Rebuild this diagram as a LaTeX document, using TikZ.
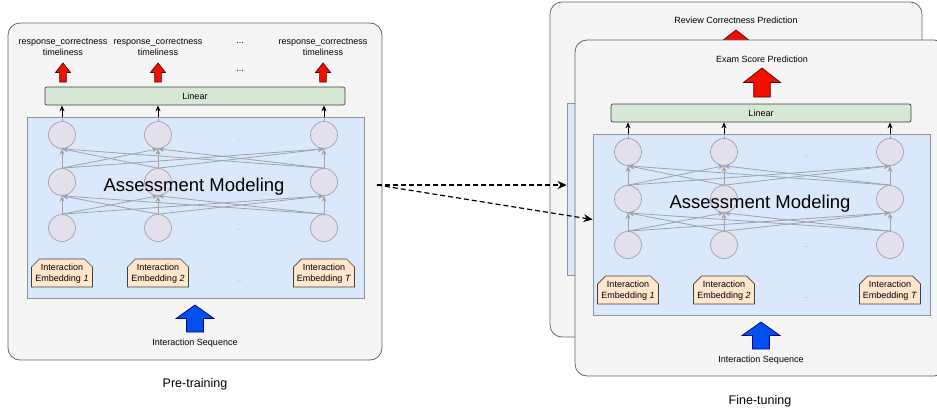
\documentclass[tikz,border=0pt]{standalone}
\usepackage{fontspec}
\setmainfont{Liberation Sans}
\usetikzlibrary{arrows.meta, positioning}

\definecolor{panelgray}{HTML}{F5F5F5}
\definecolor{paneledge}{HTML}{666666}
\definecolor{boxblue}{HTML}{DAE8FC}
\definecolor{boxedge}{HTML}{8F9299}
\definecolor{lineargreen}{HTML}{D5E8D4}
\definecolor{embpeach}{HTML}{FFE6CC}
\definecolor{unitfill}{HTML}{E1E0EB}
\definecolor{unitedge}{HTML}{A0A3A8}
\definecolor{outred}{HTML}{F01000}
\definecolor{inblue}{HTML}{0050EF}

\tikzset{
every node/.style={font=\fontsize{9}{11}\selectfont, inner sep=0pt}, % small drawio-like labels
panel/.style={draw=paneledge, fill=panelgray, rounded corners=12pt, line width=0.8pt},
modelbox/.style={draw=boxedge, fill=boxblue, line width=0.8pt},
linear/.style={draw=black!75, fill=lineargreen, rounded corners=2pt, minimum width=300pt, minimum height=18pt, line width=0.7pt},
unit/.style={circle, draw=unitedge, fill=unitfill, minimum size=27pt, line width=0.7pt},
embedline/.style={draw=black!75, fill=embpeach, line width=0.7pt},
embed/.style={minimum width=61pt, minimum height=28pt, align=center},
flow/.style={-{Stealth[length=6pt,width=5pt]}, draw=unitedge, line width=0.8pt},
tolinear/.style={-{Stealth[length=6pt,width=5pt]}, line width=1pt},
dashlink/.style={-{Stealth[length=9pt,width=8pt]}, dash pattern=on 5pt off 3pt, line width=1.2pt},
smalldots/.style={text=gray!70, font=\fontsize{6}{7}\selectfont},
fat/.pic={\path[pic actions] (-0.45,0) -- (-0.45,-0.5) -- (-1,-0.5) -- (0,-1) -- (1,-0.5) -- (0.45,-0.5) -- (0.45,0) -- cycle;},
}

% the shared assessment block: #1 name prefix, #2 x shift, #3 y shift
\newcommand{\modelblock}[3]{%
\begin{scope}[shift={(#2,#3)}]
  \node[modelbox, minimum width=337pt, minimum height=181pt] (#1box) at (195.5,207.5) {};
  \node[linear] (#1lin) at (195,96) {Linear};
  \foreach \c/\x/\t in {1/62/1, 2/158/2, 3/324/T} {
    \foreach \r/\y in {1/135, 2/182, 3/228}
      \node[unit] (#1u\r\c) at (\x,\y) {};
    % embedding box with cut top corners
    \path[embedline] (\x-30.5,287) -- (\x-30.5,267) -- (\x-22.5,259) -- (\x+22.5,259)
      -- (\x+30.5,267) -- (\x+30.5,287) -- cycle;
    \node[embed] (#1e\c) at (\x,274) {Interaction\\Embedding \textit{\t}};
  }
  \node[smalldots] (#1d1) at (240,140) {...};
  \node[smalldots] (#1d3) at (240,230) {...};
  \node[smalldots] (#1de) at (240,281) {...};
  \foreach \a in {1,2,3}
    \foreach \b in {1,2,3} {
      \draw[flow] (#1u3\a.north) -- (#1u2\b.south);
      \draw[flow] (#1u2\a.north) -- (#1u1\b.south);
    }
  \foreach \c in {1,2,3} {
    \draw[draw=unitedge, line width=0.8pt] (#1u1\c.north) -- (#1u1\c.north |- #1box.north);
    \draw[tolinear] (#1u1\c.north |- #1box.north) -- (#1u1\c.north |- #1lin.south);
  }
  \node[font=\fontsize{18.5}{20}\selectfont] (#1name) at (194,187) {Assessment Modeling};
  \pic[fill=inblue, draw=blue!50!black, line width=0.7pt, xscale=19, yscale=27] at (195,332) {fat};
  \node (#1seq) at (195,343) {Interaction Sequence};
\end{scope}}

\begin{document}
\begin{tikzpicture}[x=1pt, y=-1pt]
\useasboundingbox (0,0) rectangle (937,415);

% pre-training
\node[panel, minimum width=374pt, minimum height=337pt] (pre) at (195,191.5) {};
\foreach \c/\x in {1/63, 2/158, 3/323} {
  \node[align=center] (out\c) at (\x,47) {response\_correctness\\timeliness};
  \pic[fill=outred, draw=red!35!black, line width=0.7pt, xscale=7.5, yscale=19] at (\x,82) {fat};
}
\node (outdots) at (240,43) {...};
\node (arrdots) at (240,71) {...};
\modelblock{p}{0}{0}
\node[font=\fontsize{12.5}{14}\selectfont] (pretrain) at (195,384) {Pre-training};

% fine-tuning, review task behind
\node[panel, minimum width=372pt, minimum height=335pt] (review) at (736,169.5) {};
\node (reviewtxt) at (736,20) {Review Correctness Prediction};
\pic[fill=outred, draw=red!35!black, line width=0.7pt, xscale=18.5, yscale=29] at (736,59) {fat};
\node[modelbox, minimum width=333pt, minimum height=172pt] (backbox) at (733.5,189) {};

% fine-tuning, exam task in front
\node[panel, minimum width=371pt, minimum height=336pt] (exam) at (760.5,208) {};
\node (examtxt) at (762,59) {Exam Score Prediction};
\pic[fill=outred, draw=red!35!black, line width=0.7pt, xscale=18.5, yscale=29] at (762,97) {fat};
\modelblock{f}{566}{17}
\node[font=\fontsize{12.5}{14}\selectfont] (finetune) at (760,401) {Fine-tuning};

% transfer of the pre-trained model
\coordinate (src) at (377,185);
\draw[dashlink] (src) -- (src -| backbox.west);
\draw[dashlink] (src) -- ([yshift=5pt]fbox.west);
\end{tikzpicture}
\end{document}
